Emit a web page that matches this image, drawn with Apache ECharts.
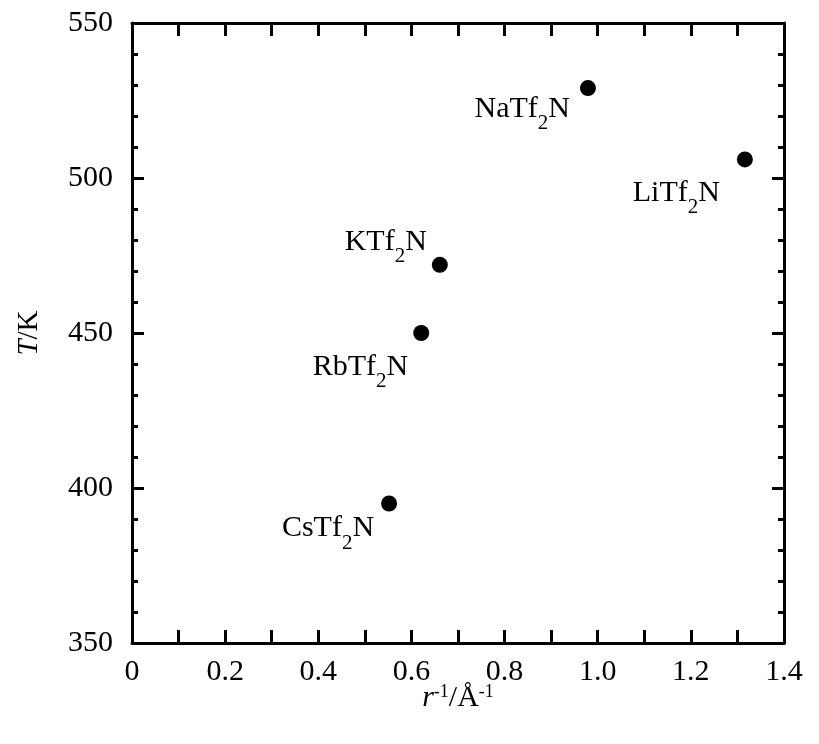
<!DOCTYPE html>
<html>
<head>
<meta charset="utf-8">
<script src="https://cdn.jsdelivr.net/npm/echarts@6/dist/echarts.min.js"></script>
<style>html,body{margin:0;padding:0;background:#fff}#c{width:819px;height:744px}</style>
</head>
<body>
<div id="c"></div>
<script>
var salts = ['LiTf', 'NaTf', 'KTf', 'RbTf', 'CsTf'];
var invRadius = [1.316, 0.979, 0.661, 0.621, 0.552];
var temperature = [506, 529, 472, 450, 395];
var labelOffsets = [[-12, 34], [-5, 21], [0, -23], [0, 34], [-2, 25]];
var xTicks = ['0', '0.2', '0.4', '0.6', '0.8', '1.0', '1.2', '1.4'];

var FONT = 'Liberation Serif';
var rich = {
  a: {fontFamily: FONT, fontSize: 30, color: '#000', lineHeight: 30, verticalAlign: 'top'},
  s: {fontFamily: FONT, fontSize: 21, color: '#000', lineHeight: 21, verticalAlign: 'top', padding: [19, 0, 0, 0]}
};

var data = salts.map(function (s, i) {
  return {
    value: [invRadius[i], temperature[i]],
    label: {
      show: true,
      position: 'left',
      offset: labelOffsets[i],
      formatter: '{a|' + s + '}{s|2}{a|N}',
      rich: rich
    }
  };
});

var axisLineStyle = {color: '#000', width: 3};
function xLabel(v) {
  var k = Math.round(v * 10);
  if (k % 2 !== 0) return '';
  return xTicks[k / 2];
}

var chart = echarts.init(document.getElementById('c'), null, {renderer: 'canvas'});
chart.setOption({
  animation: false,
  backgroundColor: '#fff',
  grid: {left: 132, top: 23, right: 35, bottom: 101},
  xAxis: [{
    type: 'value', min: 0, max: 1.4, interval: 0.1, position: 'bottom',
    axisLine: {show: true, onZero: false, lineStyle: axisLineStyle},
    axisTick: {show: true, inside: true, length: 13, lineStyle: {color: '#000', width: 3}},
    axisLabel: {formatter: xLabel, fontFamily: FONT, fontSize: 30, color: '#000', margin: 14},
    splitLine: {show: false},
    name: '{i|r}{sup|-1}{n|/Å}{sup|-1}',
    nameLocation: 'middle', nameGap: 40, nameMoveOverlap: false,
    nameTextStyle: {
      rich: {
        i: {fontFamily: FONT, fontStyle: 'italic', fontSize: 30, color: '#000', lineHeight: 30, verticalAlign: 'bottom'},
        n: {fontFamily: FONT, fontSize: 30, color: '#000', lineHeight: 30, verticalAlign: 'bottom'},
        sup: {fontFamily: FONT, fontSize: 18, color: '#000', lineHeight: 18, verticalAlign: 'top', padding: [0, 0, 14, 0]}
      }
    }
  }, {
    type: 'value', min: 0, max: 1.4, interval: 0.1, position: 'top',
    axisLine: {show: true, onZero: false, lineStyle: axisLineStyle},
    axisTick: {show: true, inside: true, length: 13, lineStyle: {color: '#000', width: 3}},
    axisLabel: {show: false}, splitLine: {show: false}
  }],
  yAxis: [{
    type: 'value', min: 350, max: 550, interval: 50, position: 'left',
    axisLine: {show: true, onZero: false, lineStyle: axisLineStyle},
    axisTick: {show: true, inside: true, length: 12, lineStyle: {color: '#000', width: 3}},
    minorTick: {show: true, splitNumber: 5, length: 6, lineStyle: {color: '#000', width: 3}},
    axisLabel: {fontFamily: FONT, fontSize: 30, color: '#000', margin: 19},
    splitLine: {show: false},
    name: '{i|T}{n|/K}',
    nameLocation: 'middle', nameGap: 88, nameRotate: 90, nameMoveOverlap: false,
    nameTextStyle: {
      rich: {
        i: {fontFamily: FONT, fontStyle: 'italic', fontSize: 29, color: '#000'},
        n: {fontFamily: FONT, fontSize: 29, color: '#000'}
      }
    }
  }, {
    type: 'value', min: 350, max: 550, interval: 50, position: 'right',
    axisLine: {show: true, onZero: false, lineStyle: axisLineStyle},
    axisTick: {show: true, inside: true, length: 12, lineStyle: {color: '#000', width: 3}},
    minorTick: {show: true, splitNumber: 5, length: 6, lineStyle: {color: '#000', width: 3}},
    axisLabel: {show: false}, splitLine: {show: false}
  }],
  series: [{
    type: 'scatter',
    xAxisIndex: 0, yAxisIndex: 0,
    symbol: 'circle', symbolSize: 16,
    itemStyle: {color: '#000', opacity: 1},
    data: data
  }]
});
</script>
</body>
</html>
